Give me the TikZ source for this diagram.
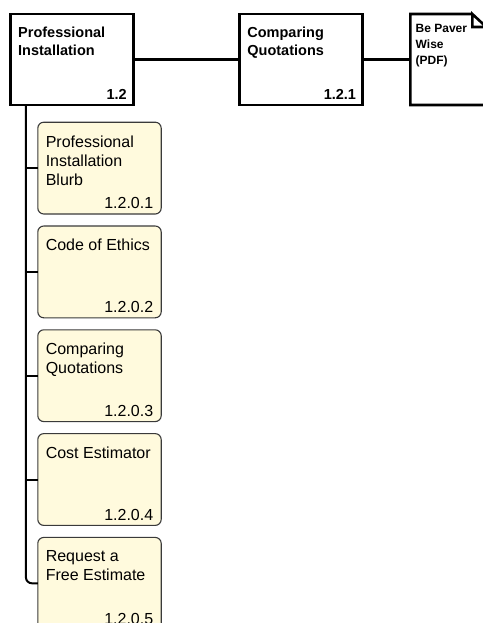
\documentclass[tikz,border=0pt]{standalone}
\usepackage{fontspec}
\setmainfont{Liberation Sans}
\usetikzlibrary{positioning}

\definecolor{cream}{HTML}{FFFADD}
\definecolor{edge}{HTML}{3A3A3A}

\begin{document}
\begin{tikzpicture}[
	x = 1pt, y = -1pt,
	node distance = 12pt,
	every node/.style = {outer sep=0pt, inner sep=0pt},
	every label/.style = {align=left},
	topbox/.style = {
		shape=rectangle, draw=black, line width=2.6pt, fill=white,
		minimum width=123pt, minimum height=91pt},
	pagebox/.style = {minimum width=76pt, minimum height=91pt},
	itembox/.style = {
		shape=rectangle, rounded corners=6pt,
		draw=edge, line width=1.1pt, fill=cream,
		minimum width=123.4pt, minimum height=91.8pt},
	toptext/.style = {font=\fontsize{14.5}{18}\selectfont\bfseries},
	pagetext/.style = {font=\fontsize{12}{16}\selectfont\bfseries},
	itemtext/.style = {font=\fontsize{16}{19}\selectfont},
	link/.style = {line width=2.2pt}]

	\useasboundingbox (0,0) rectangle (482,623);

	% top row
	\node[topbox,
		label={[toptext, anchor=north west, xshift=7.7pt, yshift=-13.4pt]north west:Professional\\Installation},
		label={[toptext, anchor=south east, xshift=-6.7pt, yshift=5.7pt]south east:1.2}]
		(pro) at (72,59.5) {};
	\node[topbox, right=106.2pt of pro,
		label={[toptext, anchor=north west, xshift=7.7pt, yshift=-13.4pt]north west:Comparing\\Quotations},
		label={[toptext, anchor=south east, xshift=-6.7pt, yshift=5.7pt]south east:1.2.1}]
		(cmp) {};
	\node[pagebox, right=47.6pt of cmp,
		label={[pagetext, anchor=north west, xshift=5.4pt, yshift=-10.4pt]north west:Be Paver\\Wise\\(PDF)}]
		(pdf) {};

	% page with folded corner
	\draw[line width=2.6pt, line join=miter]
		([xshift=-14pt]pdf.north east) -| (pdf.south west) -| ([yshift=-13pt]pdf.north east)
		-- ([xshift=-14pt]pdf.north east) -- ([xshift=-14pt, yshift=-13pt]pdf.north east)
		-- ([yshift=-13pt]pdf.north east);

	\draw[link] (pro) -- (cmp);
	\draw[link] (cmp) -- (pdf);

	% pages under 1.2
	\node[itembox,
		label={[itemtext, anchor=north west, xshift=8pt, yshift=-13.3pt]north west:Professional\\Installation\\Blurb},
		label={[itemtext, anchor=south east, xshift=-8pt, yshift=5pt]south east:1.2.0.1}]
		(blurb) at (99.5,168.1) {};
	\node[itembox, below=of blurb,
		label={[itemtext, anchor=north west, xshift=8pt, yshift=-13.3pt]north west:Code of Ethics},
		label={[itemtext, anchor=south east, xshift=-8pt, yshift=5pt]south east:1.2.0.2}]
		(ethics) {};
	\node[itembox, below=of ethics,
		label={[itemtext, anchor=north west, xshift=8pt, yshift=-13.3pt]north west:Comparing\\Quotations},
		label={[itemtext, anchor=south east, xshift=-8pt, yshift=5pt]south east:1.2.0.3}]
		(quotes) {};
	\node[itembox, below=of quotes,
		label={[itemtext, anchor=north west, xshift=8pt, yshift=-13.3pt]north west:Cost Estimator},
		label={[itemtext, anchor=south east, xshift=-8pt, yshift=5pt]south east:1.2.0.4}]
		(cost) {};
	\node[itembox, below=of cost,
		label={[itemtext, anchor=north west, xshift=8pt, yshift=-13.3pt]north west:Request a\\Free Estimate},
		label={[itemtext, anchor=south east, xshift=-8pt, yshift=5pt]south east:1.2.0.5}]
		(request) {};

	% trunk and branches
	\coordinate (trunk) at ([xshift=15.4pt]pro.south west);
	\draw[link, line width=2pt, rounded corners=6pt] (trunk) |- (request.west);
	\foreach \page in {blurb, ethics, quotes, cost}
		\draw[link, line width=2pt] (trunk |- \page.west) -- (\page.west);
\end{tikzpicture}
\end{document}
